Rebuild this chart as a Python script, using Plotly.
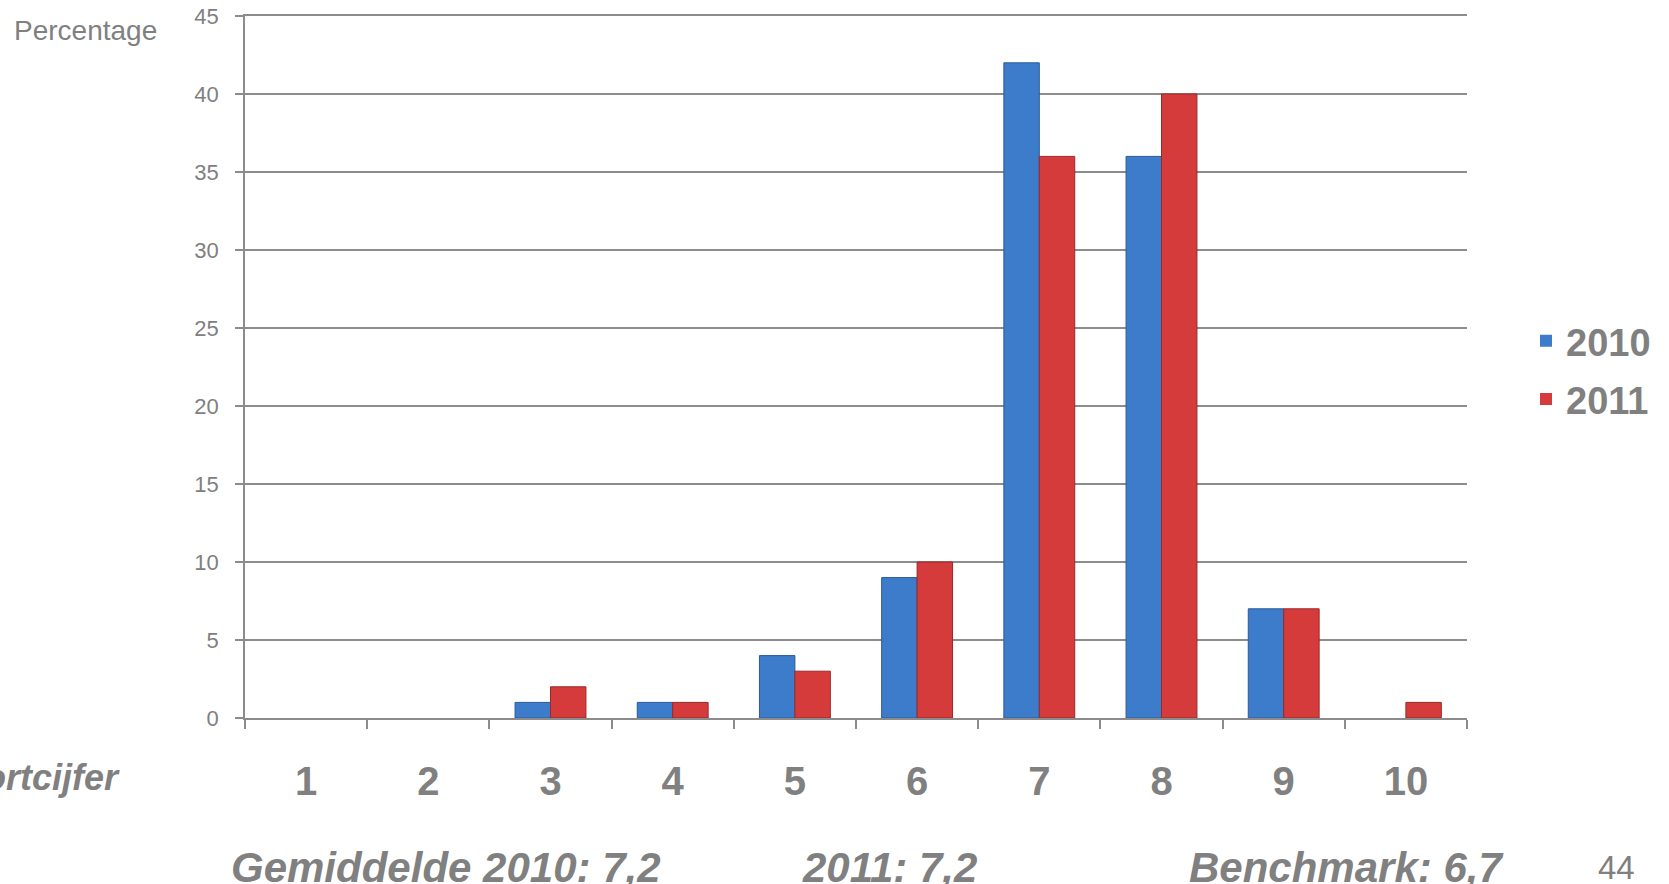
import plotly.graph_objects as go

categories = ["1", "2", "3", "4", "5", "6", "7", "8", "9", "10"]
values_2010 = [0, 0, 1, 1, 4, 9, 42, 36, 7, 0]
values_2011 = [0, 0, 2, 1, 3, 10, 36, 40, 7, 1]
series_names = ["2010", "2011"]
y_ticks = [0, 5, 10, 15, 20, 25, 30, 35, 40, 45]

FONT = "Liberation Sans, Arial, sans-serif"
GRAY = "#808080"

W, H = 1669, 884
L, R, T, B = 245, 1467, 16, 718

def px(x):
    return (x - L) / (R - L)

def py(y):
    return (B - y) / (B - T)

def edge(vals):
    return [1 if v > 0 else 0 for v in vals]

fig = go.Figure()
fig.add_trace(go.Bar(x=categories, y=values_2010, name=series_names[0], legendgroup="a",
                     marker=dict(color="#3D7CCB",
                                 line=dict(color="#2A5A99", width=edge(values_2010)))))
fig.add_trace(go.Bar(x=categories, y=values_2011, name=series_names[1], legendgroup="b",
                     marker=dict(color="#D63B3B",
                                 line=dict(color="#992828", width=edge(values_2011)))))

fig.update_layout(
    width=W, height=H,
    margin=dict(l=L, r=W - R, t=T, b=H - B, autoexpand=False),
    paper_bgcolor="white", plot_bgcolor="white",
    barmode="group", bargap=0.42, bargroupgap=0,
    font=dict(family=FONT, color=GRAY),
    showlegend=True,
    legend=dict(x=px(1526), y=py(370), xanchor="left", yanchor="middle",
                font=dict(size=38, color=GRAY, family=FONT, weight="bold"),
                tracegroupgap=6, bgcolor="rgba(0,0,0,0)"),
    xaxis=dict(type="category", tickson="boundaries", ticks="outside", ticklen=9,
               tickcolor="#8c8c8c", tickwidth=1.5,
               showline=True, linecolor="#8c8c8c", linewidth=1.5, mirror=True,
               showgrid=False, automargin=False,
               tickfont=dict(size=40, color=GRAY, family=FONT, weight="bold"),
               ticklabelstandoff=27),
    yaxis=dict(range=[0, 45], tickvals=y_ticks, ticks="outside", ticklen=8,
               tickcolor="#8c8c8c", tickwidth=1.5,
               showline=True, linecolor="#8c8c8c", linewidth=1.5,
               showgrid=True, gridcolor="#8c8c8c", gridwidth=1.5,
               zeroline=False, automargin=False, ticklabeloverflow="allow",
               tickfont=dict(size=22, color=GRAY, family=FONT),
               ticklabelstandoff=12),
)

ann = []
ann.append(dict(text="Percentage", x=px(12), y=py(30), xref="paper", yref="paper",
                xanchor="left", yanchor="middle", showarrow=False,
                font=dict(size=28, color=GRAY, family=FONT)))
ann.append(dict(text="<b><i>Rapportcijfer</i></b>", x=px(122), y=py(778), xref="paper", yref="paper",
                xanchor="right", yanchor="middle", showarrow=False,
                font=dict(size=36, color=GRAY, family=FONT)))
for txt, x0 in [("Gemiddelde 2010: 7,2", 229), ("2011: 7,2", 800), ("Benchmark: 6,7", 1187)]:
    ann.append(dict(text="<b><i>" + txt + "</i></b>", x=px(x0), y=py(867), xref="paper", yref="paper",
                    xanchor="left", yanchor="middle", showarrow=False,
                    font=dict(size=42, color=GRAY, family=FONT)))
ann.append(dict(text="44", x=px(1596), y=py(867), xref="paper", yref="paper",
                xanchor="left", yanchor="middle", showarrow=False,
                font=dict(size=33, color=GRAY, family=FONT)))
fig.update_layout(annotations=ann)

fig.write_html("out.html", config={"displayModeBar": False},
               post_script="document.body.style.margin='0';document.body.style.overflow='hidden';")
